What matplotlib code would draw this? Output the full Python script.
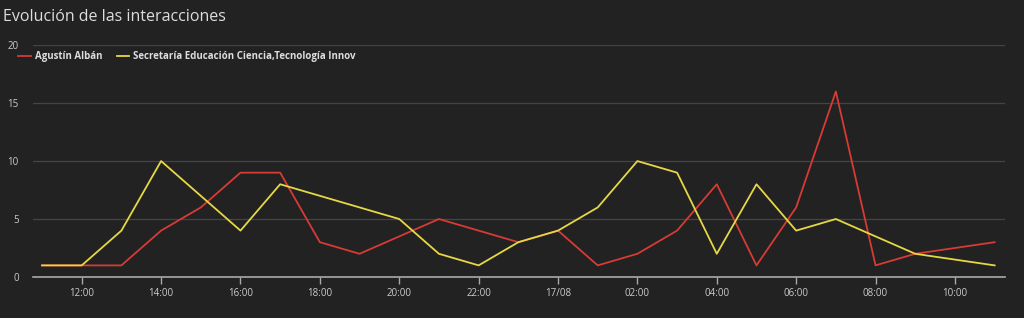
import numpy as np
import pandas as pd
import matplotlib
matplotlib.use('Agg')
import matplotlib.pyplot as plt
import matplotlib.dates as mdates

# horas (16/08 11:00 -> 17/08 11:00) y valores por serie
red_times = ['2023-08-16 11:00', '2023-08-16 12:00', '2023-08-16 13:00', '2023-08-16 14:00',
             '2023-08-16 15:00', '2023-08-16 16:00', '2023-08-16 17:00', '2023-08-16 18:00',
             '2023-08-16 19:00', '2023-08-16 21:00', '2023-08-16 23:00', '2023-08-17 00:00',
             '2023-08-17 01:00', '2023-08-17 02:00', '2023-08-17 03:00', '2023-08-17 04:00',
             '2023-08-17 05:00', '2023-08-17 06:00', '2023-08-17 07:00', '2023-08-17 08:00',
             '2023-08-17 09:00', '2023-08-17 11:00']
red_vals = [1, 1, 1, 4, 6, 9, 9, 3, 2, 5, 3, 4, 1, 2, 4, 8, 1, 6, 16, 1, 2, 3]

yel_times = ['2023-08-16 11:00', '2023-08-16 12:00', '2023-08-16 13:00', '2023-08-16 14:00',
             '2023-08-16 15:00', '2023-08-16 16:00', '2023-08-16 17:00', '2023-08-16 18:00',
             '2023-08-16 19:00', '2023-08-16 20:00', '2023-08-16 21:00', '2023-08-16 22:00',
             '2023-08-16 23:00', '2023-08-17 00:00', '2023-08-17 01:00', '2023-08-17 02:00',
             '2023-08-17 03:00', '2023-08-17 04:00', '2023-08-17 05:00', '2023-08-17 06:00',
             '2023-08-17 07:00', '2023-08-17 09:00', '2023-08-17 11:00']
yel_vals = [1, 1, 4, 10, 7, 4, 8, 7, 6, 5, 2, 1, 3, 4, 6, 10, 9, 2, 8, 4, 5, 2, 1]

red_label = 'Agustín Albán'
yel_label = 'Secretaría Educación Ciencia,Tecnología Innov'

bg = '#222222'
plt.rcParams['font.family'] = ['Open Sans', 'DejaVu Sans']

fig = plt.figure(figsize=(10.24, 3.18), dpi=100, facecolor=bg)
ax = fig.add_axes([0.032, 0.129, 0.949, 0.729], facecolor=bg)

ax.plot(pd.to_datetime(red_times), red_vals, color='#d63b35', lw=1.3, label=red_label)
ax.plot(pd.to_datetime(yel_times), yel_vals, color='#e6d845', lw=1.3, label=yel_label)

ax.set_ylim(0, 20)
ax.set_yticks([0, 5, 10, 15, 20])
ax.set_xlim(pd.Timestamp('2023-08-16 10:46'), pd.Timestamp('2023-08-17 11:15'))
ax.xaxis.set_major_locator(mdates.HourLocator(byhour=range(0, 24, 2)))


def fmt(x, pos):
    d = mdates.num2date(x)
    if d.hour == 0:
        return d.strftime('%d/%m')
    return d.strftime('%H:%M')


ax.xaxis.set_major_formatter(plt.FuncFormatter(fmt))

ax.grid(axis='y', color='#444444', lw=0.9)
ax.set_axisbelow(True)
for s in ['top', 'right', 'left']:
    ax.spines[s].set_visible(False)
ax.spines['bottom'].set_color('#aaaaaa')
ax.spines['bottom'].set_linewidth(1.2)
ax.tick_params(axis='x', colors='#aaaaaa', length=5, width=1, labelsize=7, labelcolor='#cccccc', pad=3)
ax.tick_params(axis='y', length=0, labelsize=7, labelcolor='#cccccc', pad=10)

fig.text(0.003, 0.947, 'Evolución de las interacciones', color='#dddddd', fontsize=11.5, va='center', ha='left')

leg = ax.legend(loc='upper left', bbox_to_anchor=(-0.024, 1.012), ncol=2, frameon=False,
                handlelength=1.3, handletextpad=0.4, columnspacing=1.5,
                prop={'size': 7, 'weight': 'bold'})
for t in leg.get_texts():
    t.set_color('#dddddd')

fig.savefig('out.png', dpi=100, facecolor=bg)
